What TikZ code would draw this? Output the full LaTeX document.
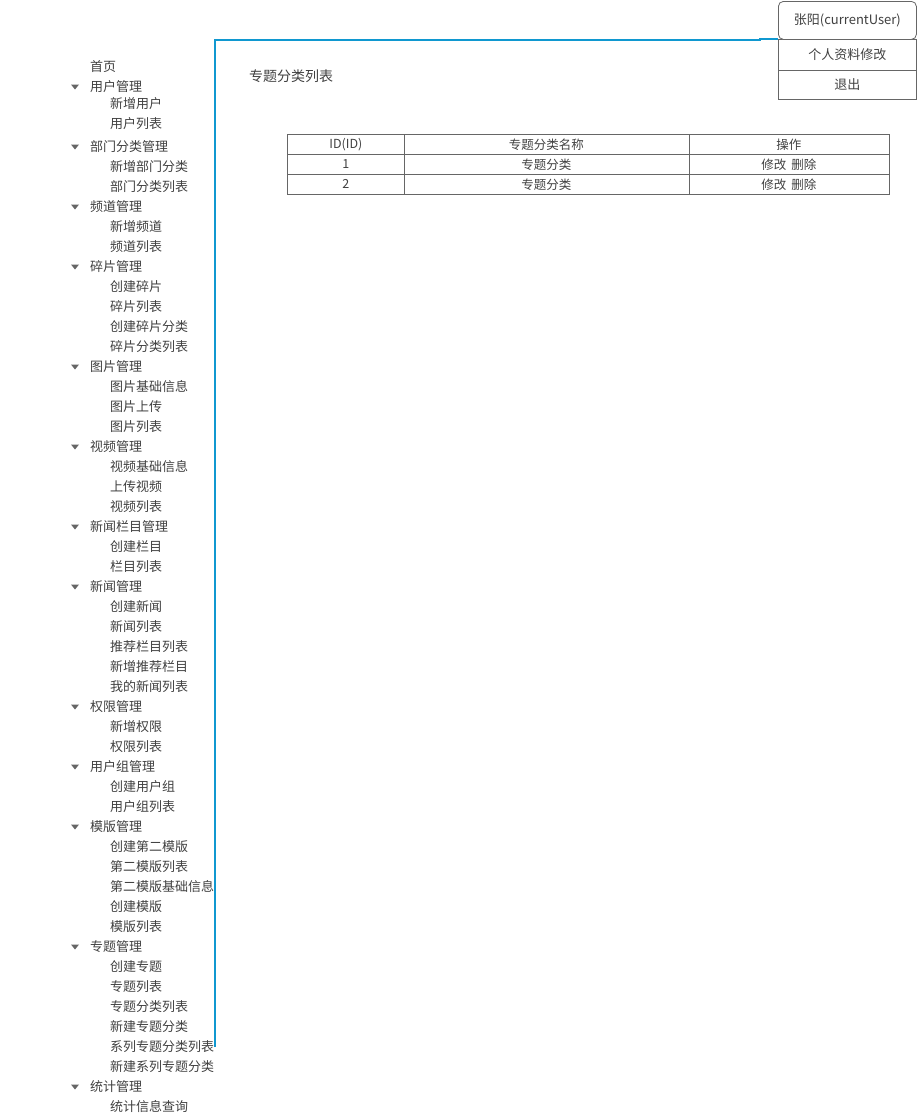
\documentclass[tikz,border=0pt]{standalone}
\usepackage{fontspec}
\setmainfont{Noto Sans CJK SC}
\definecolor{framecol}{RGB}{16,152,208}
\begin{document}
\begin{tikzpicture}[x=1pt,y=-1pt,
  txt/.style={font=\fontsize{13}{15}\selectfont, text=black!75, inner sep=0pt},
  menu/.style={txt, anchor=west},
  tri/.style={fill=black!60, draw=none},
  cell/.style={draw=black!60, line width=0.8pt, minimum height=20pt, inner sep=0pt, anchor=north west, font=\fontsize{12.5}{14}\selectfont, text=black!75},
  ubox/.style={draw=black!60, line width=0.8pt, inner sep=0pt, anchor=north west, font=\fontsize{13}{15}\selectfont, text=black!75},
  bline/.style={draw=framecol, line width=2pt}
]
\useasboundingbox (0,0) rectangle (919,1117);
% blue frame
\coordinate (fb) at (214.5,1047);
\coordinate (ft) at (214.5,40);
\coordinate (fr) at (760,40);
\coordinate (fr2) at (760,38.5);
\coordinate (fe) at (778,38.5);
\draw[bline] (fb) -- (ft) -- (fr) -- (fr2) -- (fe);
% user menu
\node[ubox, minimum width=138pt, minimum height=31pt] (m1) at (778,39) {个人资料修改};
\node[ubox, minimum width=138pt, minimum height=29pt] (m2) at (778,70) {退出};
\node[ubox, rounded corners=5pt, fill=white, minimum width=138pt, minimum height=38pt] (user) at (778,1) {张阳(currentUser)};
% heading
\node[menu, font=\fontsize{14}{16}\selectfont] (head) at (249,76) {专题分类列表};
% table
\node[cell, minimum width=117pt] (h1) at (287,134) {ID(ID)};
\node[cell, minimum width=285pt] (h2) at (403.5,134) {专题分类名称};
\node[cell, minimum width=200pt] (h3) at (688.5,134) {操作};
\node[cell, minimum width=117pt] (a1) at (287,154) {1};
\node[cell, minimum width=285pt] (a2) at (403.5,154) {专题分类};
\node[cell, minimum width=200pt] (a3) at (688.5,154) {修改\hspace{5pt}删除};
\node[cell, minimum width=117pt] (b1) at (287,174) {2};
\node[cell, minimum width=285pt] (b2) at (403.5,174) {专题分类};
\node[cell, minimum width=200pt] (b3) at (688.5,174) {修改\hspace{5pt}删除};
% sidebar
\node[menu] (s0) at (90,67) {首页};
\node[menu] (g1) at (90,87) {用户管理};
\node[menu] (i1) at (110,104) {新增用户};
\node[menu] (i2) at (110,124) {用户列表};
\fill[tri] (71,84.5) -- (79,84.5) -- (75,89.5) -- cycle;
\foreach \t/\g [count=\k from 0] in {
  部门分类管理/1, 新增部门分类/0, 部门分类列表/0,
  频道管理/1, 新增频道/0, 频道列表/0,
  碎片管理/1, 创建碎片/0, 碎片列表/0, 创建碎片分类/0, 碎片分类列表/0,
  图片管理/1, 图片基础信息/0, 图片上传/0, 图片列表/0,
  视频管理/1, 视频基础信息/0, 上传视频/0, 视频列表/0,
  新闻栏目管理/1, 创建栏目/0, 栏目列表/0,
  新闻管理/1, 创建新闻/0, 新闻列表/0, 推荐栏目列表/0, 新增推荐栏目/0, 我的新闻列表/0,
  权限管理/1, 新增权限/0, 权限列表/0,
  用户组管理/1, 创建用户组/0, 用户组列表/0,
  模版管理/1, 创建第二模版/0, 第二模版列表/0, 第二模版基础信息/0, 创建模版/0, 模版列表/0,
  专题管理/1, 创建专题/0, 专题列表/0, 专题分类列表/0, 新建专题分类/0, 系列专题分类列表/0, 新建系列专题分类/0,
  统计管理/1, 统计信息查询/0}{
  \pgfmathsetmacro{\yy}{147+20*\k}
  \ifnum\g=1
    \node[menu] (n\k) at (90,\yy) {\t};
    \fill[tri] (71,\yy-2.5) -- (79,\yy-2.5) -- (75,\yy+2.5) -- cycle;
  \else
    \node[menu] (n\k) at (110,\yy) {\t};
  \fi
}
\end{tikzpicture}
\end{document}
